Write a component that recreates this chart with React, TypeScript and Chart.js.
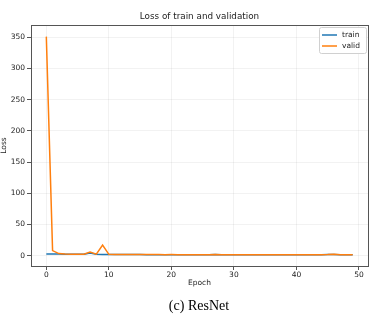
import React, { useEffect, useRef } from "react";
import { Chart, registerables } from "chart.js";

Chart.register(...registerables);

const epochs = [0,1,2,3,4,5,6,7,8,9,10,11,12,13,14,15,16,17,18,19,20,21,22,23,24,25,26,27,28,29,30,31,32,33,34,35,36,37,38,39,40,41,42,43,44,45,46,47,48,49];
const trainLoss = [2.6,2.5,2.4,2.3,2.1,2.0,2.1,4.2,2.0,1.9,1.8,1.8,1.7,1.7,1.6,1.6,1.5,1.5,1.5,1.4,1.5,1.4,1.4,1.4,1.4,1.3,1.4,1.7,1.3,1.3,1.3,1.3,1.3,1.2,1.3,1.2,1.2,1.2,1.2,1.2,1.2,1.2,1.2,1.4,1.5,1.6,1.9,1.3,1.2,1.2];
const validLoss = [351,8,3.2,2.4,2.2,2.1,2.3,5.5,2.2,17,2.0,1.9,1.8,1.8,1.7,1.7,1.6,1.6,1.6,1.5,1.6,1.5,1.5,1.5,1.5,1.4,1.5,1.9,1.4,1.4,1.4,1.4,1.4,1.3,1.4,1.3,1.3,1.3,1.3,1.3,1.3,1.3,1.3,1.4,1.5,1.6,2.0,1.4,1.3,1.3];
const xTicks = [0,10,20,30,40,50];
const yTicks = [0,50,100,150,200,250,300,350];
const seriesNames = ["train", "valid"];
const titleText = "Loss of train and validation";
const xLabel = "Epoch";
const yLabel = "Loss";
const captionText = "(c) ResNet";

const FONT = "'DejaVu Sans', sans-serif";

const framePlugin = {
  id: "frame",
  afterDatasetsDraw(chart: any) {
    const { ctx, chartArea: a } = chart;
    ctx.save();
    ctx.strokeStyle = "#555";
    ctx.lineWidth = 1;
    ctx.strokeRect(Math.round(a.left) + 0.5, Math.round(a.top) + 0.5, Math.round(a.right - a.left), Math.round(a.bottom - a.top));
    ctx.restore();
  },
};

const titlePlugin = {
  id: "mplTitle",
  afterDraw(chart: any) {
    const { ctx, chartArea: a } = chart;
    ctx.save();
    ctx.font = `8.8px ${FONT}`;
    ctx.fillStyle = "#222";
    ctx.textAlign = "center";
    ctx.textBaseline = "middle";
    ctx.fillText(titleText, (a.left + a.right) / 2, a.top - 8);
    ctx.restore();
  },
};

const legendPlugin = {
  id: "mplLegend",
  afterDraw(chart: any) {
    const { ctx, chartArea: a } = chart;
    const w = 47, h = 26;
    const x0 = a.right - w - 2;
    const y0 = a.top + 2;
    ctx.save();
    ctx.fillStyle = "rgba(255,255,255,0.85)";
    ctx.strokeStyle = "#d0d0d0";
    ctx.lineWidth = 1;
    ctx.beginPath();
    (ctx as any).roundRect(x0 + 0.5, y0 + 0.5, w, h, 2);
    ctx.fill();
    ctx.stroke();
    ctx.font = `7.5px ${FONT}`;
    ctx.textBaseline = "middle";
    ctx.textAlign = "left";
    chart.data.datasets.forEach((ds: any, i: number) => {
      const y = y0 + 8 + i * 11;
      ctx.strokeStyle = ds.borderColor;
      ctx.lineWidth = 1.5;
      ctx.beginPath();
      ctx.moveTo(x0 + 3, y);
      ctx.lineTo(x0 + 18, y);
      ctx.stroke();
      ctx.fillStyle = "#222";
      ctx.fillText(ds.label, x0 + 23, y);
    });
    ctx.restore();
  },
};

export default function App() {
  const ref = useRef<HTMLCanvasElement>(null);
  useEffect(() => {
    const chart = new Chart(ref.current!, {
      type: "line",
      data: {
        datasets: [
          {
            label: seriesNames[0],
            data: epochs.map((e, i) => ({ x: e, y: trainLoss[i] })),
            borderColor: "#1f77b4",
            borderWidth: 1.5,
            pointRadius: 0,
            tension: 0,
            order: 2,
          },
          {
            label: seriesNames[1],
            data: epochs.map((e, i) => ({ x: e, y: validLoss[i] })),
            borderColor: "#ff7f0e",
            borderWidth: 1.5,
            pointRadius: 0,
            tension: 0,
            order: 1,
          },
        ],
      },
      options: {
        animation: false,
        responsive: false,
        maintainAspectRatio: false,
        layout: { padding: { left: 0, right: 23, top: 25, bottom: 37 } },
        plugins: {
          legend: { display: false },
          tooltip: { enabled: false },
          title: { display: false },
        },
        scales: {
          x: {
            type: "linear",
            min: -2.45,
            max: 51.45,
            afterBuildTicks: (s: any) => { s.ticks = xTicks.map((v) => ({ value: v })); },
            afterFit: (s: any) => { s.height = 22; },
            ticks: { color: "#222", font: { family: FONT, size: 7.5 }, padding: 1, maxRotation: 0 },
            grid: { color: "rgba(0,0,0,0.05)", tickColor: "#555", tickLength: 4, drawOnChartArea: true },
            border: { display: false },
            title: { display: true, text: xLabel, color: "#222", font: { family: FONT, size: 7.5 }, padding: 0 },
          },
          y: {
            type: "linear",
            min: -16.7,
            max: 369.6,
            afterBuildTicks: (s: any) => { s.ticks = yTicks.map((v) => ({ value: v })); },
            afterFit: (s: any) => { s.width = 31; },
            ticks: { color: "#222", font: { family: FONT, size: 7.5 }, padding: 2 },
            grid: { color: "rgba(0,0,0,0.05)", tickColor: "#555", tickLength: 4 },
            border: { display: false },
            title: { display: true, text: yLabel, color: "#222", font: { family: FONT, size: 7.5 }, padding: 0 },
          },
        },
      },
      plugins: [framePlugin, titlePlugin, legendPlugin],
    });
    return () => chart.destroy();
  }, []);
  return (
    <div style={{ position: "absolute", left: 0, top: 0, width: 391, height: 325, background: "#fff" }}>
      <canvas ref={ref} width={391} height={325} style={{ width: 391, height: 325, display: "block" }} />
      <div
        style={{
          position: "absolute",
          left: 0,
          width: 398,
          top: 299,
          textAlign: "center",
          fontFamily: "'Liberation Serif', 'Times New Roman', serif",
          fontSize: 14,
          lineHeight: 1,
          color: "#000",
        }}
      >
        {captionText}
      </div>
    </div>
  );
}
